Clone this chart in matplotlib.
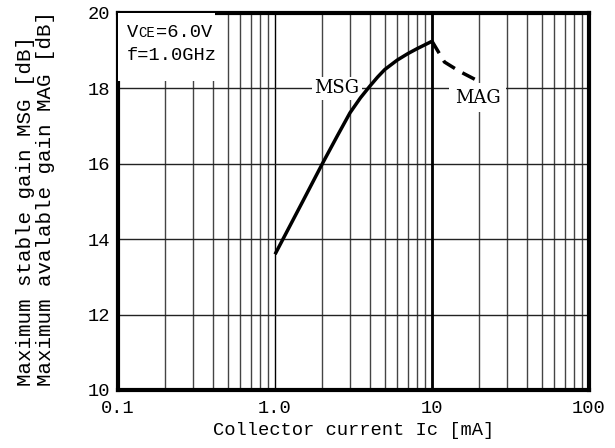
import numpy as np
import matplotlib.pyplot as plt
from matplotlib.ticker import FixedLocator, NullFormatter

# MSG / MAG vs collector current
msg_ic = [1.0, 1.5, 2.0, 2.5, 3.0, 3.5, 4.0, 4.5, 5.0, 6.0, 7.0, 8.0, 10.0]
msg_db = [13.6, 15.0, 16.0, 16.75, 17.35, 17.75, 18.05, 18.3, 18.5, 18.75, 18.92, 19.05, 19.25]
mag_ic = [10.0, 12.0, 15.0, 20.0]
mag_db = [19.25, 18.7, 18.45, 18.18]

x_ticks = [0.1, 1.0, 10, 100]
x_ticklabels = ['0.1', '1.0', '10', '100']
y_ticks = [10, 12, 14, 16, 18, 20]

font = 'Liberation Mono'
plt.rcParams['font.family'] = [font, 'DejaVu Sans Mono']

fig = plt.figure(figsize=(6.15, 4.48), dpi=100)
ax = fig.add_axes([0.192, 0.1295, 0.7657, 0.8415])

ax.set_xscale('log')
ax.set_xlim(0.1, 100)
ax.set_ylim(10, 20)
ax.xaxis.set_major_locator(FixedLocator(x_ticks))
ax.set_xticklabels(x_ticklabels)
minors = [m * d for d in [0.1, 1, 10] for m in range(2, 10)]
ax.xaxis.set_minor_locator(FixedLocator(minors))
ax.xaxis.set_minor_formatter(NullFormatter())
ax.set_yticks(y_ticks)
ax.tick_params(which='both', length=0, labelsize=13.5)
ax.tick_params(axis='x', pad=7)
ax.tick_params(axis='y', pad=6)

ax.set_axisbelow(True)
ax.grid(which='minor', axis='x', color='#444444', lw=1.0)
ax.grid(which='major', axis='x', color='black', lw=1.0)
ax.grid(which='major', axis='y', color='#222222', lw=1.0)
ax.axvline(10, color='black', lw=2, zorder=1)

for s in ax.spines.values():
    s.set_linewidth(3)

ax.plot(msg_ic, msg_db, color='black', lw=2.5, zorder=5, solid_capstyle='butt')
ax.plot(mag_ic, mag_db, color='black', lw=2.5, ls=(0, (4, 2.5)), zorder=5)

# labels with white background to hide the grid behind them
ax.text(2.48, 18.0, 'MSG', fontsize=13, ha='center', va='center', family='DejaVu Serif',
        bbox=dict(fc='white', ec='none', pad=2), zorder=4)
ax.text(19.6, 17.75, 'MAG', fontsize=13, ha='center', va='center', family='DejaVu Serif',
        bbox=dict(fc='white', ec='none', pad=4), zorder=4)

ax.add_patch(plt.Rectangle((0.0, 0.82), 0.205, 0.18, transform=ax.transAxes,
                           fc='white', ec='none', zorder=3))
ax.text(0.018, 0.935, 'V', transform=ax.transAxes, fontsize=13.5, va='baseline', zorder=4)
ax.annotate('CE', xy=(0.018, 0.935), xycoords='axes fraction', xytext=(8.5, 0),
            textcoords='offset points', fontsize=10, va='baseline', zorder=4)
ax.annotate('=6.0V', xy=(0.018, 0.935), xycoords='axes fraction', xytext=(21, 0),
            textcoords='offset points', fontsize=13.5, va='baseline', zorder=4)
ax.text(0.018, 0.875, 'f=1.0GHz', transform=ax.transAxes, fontsize=13.5, va='baseline', zorder=4)

ax.set_xlabel('Collector current Ic [mA]', fontsize=13.5)
ax.xaxis.set_label_coords(0.5, -0.085)
ax.set_ylabel('Maximum stable gain MSG [dB]\nMaximum avalable gain MAG [dB]', fontsize=15,
              linespacing=1.05, multialignment='left')
ax.yaxis.set_label_coords(-0.135, 0.507)

fig.savefig('out.png', dpi=100)
